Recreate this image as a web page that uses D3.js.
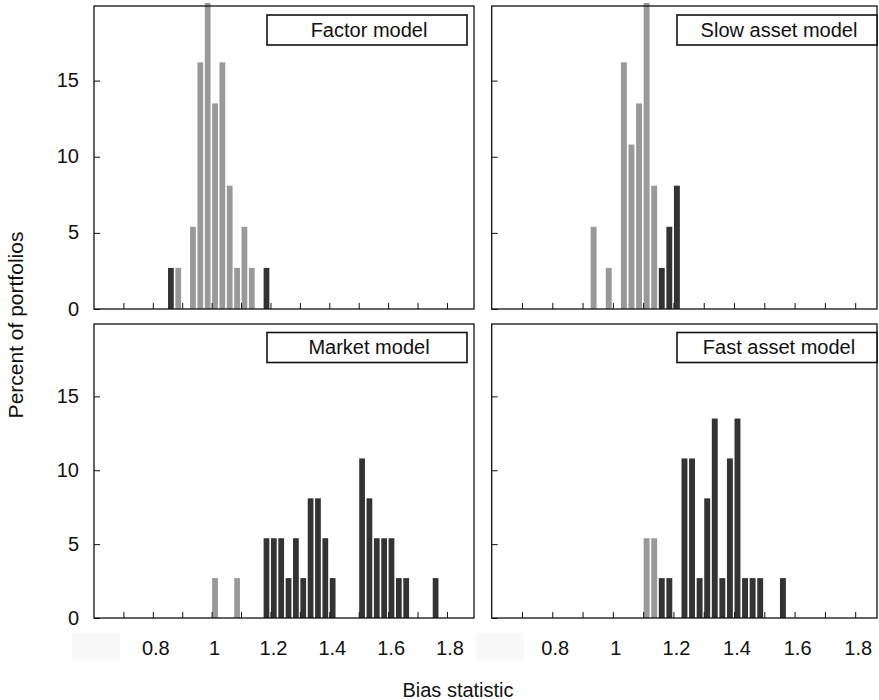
<!DOCTYPE html>
<html>
<head>
<meta charset="utf-8">
<script src="https://cdn.jsdelivr.net/npm/d3@7"></script>
<style>
  html, body { margin: 0; padding: 0; background: #fff; }
  svg { display: block; font-family: "Liberation Sans", Arial, Helvetica, sans-serif; }
</style>
</head>
<body>
<svg id="chart" width="879" height="700"></svg>
<script>
// ---- data (percent of portfolios per bias-statistic bin; bins are lower edges, width 0.025) ----
const binWidth = 0.025;

const factorBins    = [0.85, 0.875, 0.925, 0.95, 0.975, 1.0, 1.025, 1.05, 1.075, 1.1, 1.125, 1.175];
const factorPct     = [2.7, 2.7, 5.4, 16.2, 21.6, 13.5, 16.2, 8.1, 2.7, 5.4, 2.7, 2.7];
const factorOutside = [1, 0, 0, 0, 0, 0, 0, 0, 0, 0, 0, 1];

const slowBins    = [0.925, 0.975, 1.025, 1.05, 1.075, 1.1, 1.125, 1.15, 1.175, 1.2];
const slowPct     = [5.4, 2.7, 16.2, 10.8, 13.5, 27.0, 8.1, 2.7, 5.4, 8.1];
const slowOutside = [0, 0, 0, 0, 0, 0, 0, 1, 1, 1];

const marketBins    = [1.0, 1.075, 1.175, 1.2, 1.225, 1.25, 1.275, 1.3, 1.325, 1.35, 1.375, 1.4, 1.5, 1.525, 1.55, 1.575, 1.6, 1.625, 1.65, 1.75];
const marketPct     = [2.7, 2.7, 5.4, 5.4, 5.4, 2.7, 5.4, 2.7, 8.1, 8.1, 5.4, 2.7, 10.8, 8.1, 5.4, 5.4, 5.4, 2.7, 2.7, 2.7];
const marketOutside = [0, 0, 1, 1, 1, 1, 1, 1, 1, 1, 1, 1, 1, 1, 1, 1, 1, 1, 1, 1];

const fastBins    = [1.1, 1.125, 1.15, 1.175, 1.225, 1.25, 1.275, 1.3, 1.325, 1.35, 1.375, 1.4, 1.425, 1.45, 1.475, 1.55];
const fastPct     = [5.4, 5.4, 2.7, 2.7, 10.8, 10.8, 2.7, 8.1, 13.5, 2.7, 10.8, 13.5, 2.7, 2.7, 2.7, 2.7];
const fastOutside = [0, 0, 1, 1, 1, 1, 1, 1, 1, 1, 1, 1, 1, 1, 1, 1];

const panelTitles = ["Factor model", "Slow asset model", "Market model", "Fast asset model"];

const xTicks      = [0.7, 0.8, 0.9, 1.0, 1.1, 1.2, 1.3, 1.4, 1.5, 1.6, 1.7, 1.8];
const xTickLabels = [0.8, 1.0, 1.2, 1.4, 1.6, 1.8];
const yTicks      = [0, 5, 10, 15];

const xLabel = "Bias statistic";
const yLabel = "Percent of portfolios";

// ---- layout ----
const svg = d3.select("#chart");
const cols = [ { x0: 94, x1: 474, xmax: 1.892, boxShift: -22 }, { x0: 491.7, x1: 877, xmax: 1.872, boxShift: -16 } ];
const rows = [ { y0: 6, y1: 309 }, { y0: 324, y1: 618 } ];
const yMax = 19.9;
const colorIn = "#999999", colorOut = "#333333", ink = "#111111";

const panels = [
  { title: panelTitles[0], bins: factorBins, pct: factorPct, out: factorOutside, c: 0, r: 0 },
  { title: panelTitles[1], bins: slowBins,   pct: slowPct,   out: slowOutside,   c: 1, r: 0 },
  { title: panelTitles[2], bins: marketBins, pct: marketPct, out: marketOutside, c: 0, r: 1 },
  { title: panelTitles[3], bins: fastBins,   pct: fastPct,   out: fastOutside,   c: 1, r: 1 }
];

// faint boxes behind the x tick label rows (present in the original scan)
cols.forEach(col => {
  svg.append("rect").attr("x", col.x0 + col.boxShift).attr("y", 633).attr("width", 48).attr("height", 28)
    .attr("fill", "#f9f9f9");
});

panels.forEach((p, i) => {
  const col = cols[p.c], row = rows[p.r];
  const w = col.x1 - col.x0, h = row.y1 - row.y0;
  const x = d3.scaleLinear().domain([0.6, col.xmax]).range([0, w]);
  const y = d3.scaleLinear().domain([0, yMax]).range([h, 0]);
  const g = svg.append("g").attr("transform", `translate(${col.x0},${row.y0})`);

  g.append("clipPath").attr("id", "clip" + i)
    .append("rect").attr("x", 0).attr("y", -3).attr("width", w).attr("height", h + 3);

  const data = p.bins.map((b, k) => ({ b, v: p.pct[k], o: p.out[k] }));
  const bw = (x(binWidth) - x(0)) * 0.78;
  g.append("g").attr("clip-path", `url(#clip${i})`)
    .selectAll("rect").data(data).join("rect")
    .attr("x", d => x(d.b) + 0.5)
    .attr("width", bw)
    .attr("y", d => y(d.v))
    .attr("height", d => y(0) - y(d.v))
    .attr("fill", d => d.o ? colorOut : colorIn);

  // inward ticks
  const xAxis = d3.axisTop(x).tickValues(xTicks).tickSize(6).tickFormat("");
  g.append("g").attr("transform", `translate(0,${h})`).call(xAxis)
    .call(s => s.select(".domain").remove())
    .selectAll("line").attr("stroke", ink);
  const yAxis = d3.axisRight(y).tickValues(yTicks).tickSize(6).tickFormat("");
  g.append("g").call(yAxis)
    .call(s => s.select(".domain").remove())
    .selectAll("line").attr("stroke", ink);

  // frame
  g.append("rect").attr("x", 0).attr("y", 0).attr("width", w).attr("height", h)
    .attr("fill", "none").attr("stroke", ink).attr("stroke-width", 1.3);

  // legend box
  const bx = p.c === 0 ? w - 207 : w - 200;
  const by = p.r === 0 ? 9 : 8.5;
  g.append("rect").attr("x", bx).attr("y", by).attr("width", 200).attr("height", 30)
    .attr("fill", "#fff").attr("stroke", ink).attr("stroke-width", 1.6);
  g.append("text").attr("x", bx + 102).attr("y", by + 21.5).attr("text-anchor", "middle")
    .attr("font-size", 20).attr("fill", ink).text(p.title);

  // tick labels
  if (p.c === 0) {
    g.selectAll("text.yl").data(yTicks).join("text").attr("class", "yl")
      .attr("x", -15).attr("y", d => y(d)).attr("dy", "0.33em")
      .attr("text-anchor", "end").attr("font-size", 20).attr("fill", ink)
      .text(d => d);
  }
  if (p.r === 1) {
    g.selectAll("text.xl").data(xTickLabels).join("text").attr("class", "xl")
      .attr("x", d => x(d) + 3).attr("y", h + 37)
      .attr("text-anchor", "middle").attr("font-size", 20).attr("fill", ink)
      .text(d => d3.format("~g")(d));
  }
});

// axis titles
svg.append("text").attr("x", 458).attr("y", 697).attr("text-anchor", "middle")
  .attr("font-size", 20).attr("fill", ink).text(xLabel);
svg.append("text").attr("transform", "translate(23,325) rotate(-90)")
  .attr("text-anchor", "middle").attr("font-size", 21).attr("fill", ink).text(yLabel);
</script>
</body>
</html>
